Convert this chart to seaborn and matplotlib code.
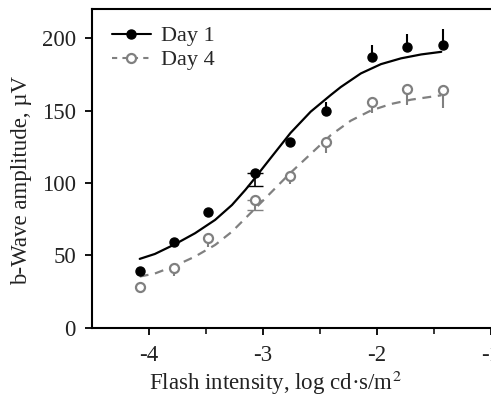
import numpy as np
import matplotlib
matplotlib.use("Agg")
import matplotlib.pyplot as plt
from matplotlib.lines import Line2D
import seaborn as sns

# datos
intensidad = [-4.08, -3.78, -3.48, -3.07, -2.76, -2.45, -2.04, -1.74, -1.42]
dia1 = [39, 59, 80, 107, 128, 150, 187, 194, 195]
dia4 = [28, 41, 62, 88, 105, 128, 156, 165, 164]
dia1_err_sup = [0, 0, 0, 0, 0, 6, 8, 9, 11]
dia1_err_inf = [0, 0, 0, 9, 0, 0, 0, 0, 0]
dia4_err_inf = [4, 5, 6, 7, 6, 7, 8, 11, 12]

# curvas de ajuste (muestras)
ajuste1_x = [-4.08, -3.947, -3.771, -3.595, -3.419, -3.271, -3.154, -3.095, -2.934,
             -2.758, -2.581, -2.405, -2.317, -2.141, -1.965, -1.789, -1.612, -1.436]
ajuste1_y = [47.6, 51, 57.7, 65.3, 74.5, 84.8, 95.2, 100.9, 117,
             134.5, 149.2, 160.7, 166.2, 175.6, 182, 186, 188.7, 190.5]
ajuste4_x = [-4.08, -3.947, -3.771, -3.595, -3.419, -3.271, -3.154, -3.022, -2.934,
             -2.758, -2.581, -2.405, -2.229, -2.053, -1.877, -1.7, -1.524, -1.436]
ajuste4_y = [35.4, 37.5, 42.8, 49.2, 57.2, 66.4, 75.6, 86, 93,
             107, 120, 133, 143, 150, 154.5, 157.5, 159.5, 160.5]

sns.set_style("ticks")
plt.rcParams['font.family'] = ['Liberation Serif', 'DejaVu Serif']
plt.rcParams['mathtext.fontset'] = 'stix'

GRIS = '#808080'
TXT = '#222222'
FS = 16.5

fig = plt.figure(figsize=(4.91, 3.95), dpi=100)
ax = fig.add_axes([0.187, 0.170, 0.813, 0.807])

sns.lineplot(x=ajuste1_x, y=ajuste1_y, ax=ax, color='black', lw=1.6, sort=False)
sns.lineplot(x=ajuste4_x, y=ajuste4_y, ax=ax, color=GRIS, lw=1.6, sort=False,
             linestyle=(0, (4, 3)))

x = np.array(intensidad)
ax.errorbar(x, dia1, yerr=[np.zeros(len(x)), dia1_err_sup], fmt='none',
            ecolor='black', elinewidth=1.5, capsize=0)
ax.errorbar(x, dia4, yerr=[dia4_err_inf, np.zeros(len(x))], fmt='none',
            ecolor=GRIS, elinewidth=1.5, capsize=0)
# barras con tapa (punto 4)
i = 3
ax.errorbar(x[i], dia1[i], yerr=[[dia1_err_inf[i]], [0]], fmt='none',
            ecolor='black', elinewidth=1.2, capsize=6)
ax.errorbar(x[i], dia4[i], yerr=[[dia4_err_inf[i]], [0]], fmt='none',
            ecolor=GRIS, elinewidth=1.2, capsize=6)

ax.plot(x, dia1, 'o', color='black', ms=6.5, zorder=5)
ax.plot(x, dia4, 'o', mfc='white', mec=GRIS, mew=1.6, ms=6.5, zorder=5)

ax.set_xlim(-4.5, -1)
ax.set_ylim(0, 220)
ax.set_xticks([-4, -3, -2, -1])
ax.set_xticklabels(['-4', '-3', '-2', '-1'])
ax.set_xticks([-3.5, -2.5, -1.5], minor=True)
ax.set_yticks([0, 50, 100, 150, 200])
ax.tick_params(axis='both', which='major', direction='out', length=5, width=1.3,
               labelsize=FS, color='black', labelcolor=TXT)
ax.tick_params(axis='x', which='major', pad=7.5)
ax.tick_params(axis='y', which='major', pad=6.5)
ax.tick_params(axis='x', which='minor', direction='out', length=4, width=1.3)

for s in ['left', 'bottom', 'top']:
    ax.spines[s].set_linewidth(1.5)
    ax.spines[s].set_color('black')
ax.spines['right'].set_visible(False)

ax.set_xlabel('Flash intensity, log cd·s/m$^2$', fontsize=FS, color=TXT)
ax.set_ylabel('b-Wave amplitude, µV', fontsize=FS, color=TXT)
ax.xaxis.set_label_coords(0.459, -0.127)
ax.yaxis.set_label_coords(-0.15, 0.462)

handles = [
    Line2D([], [], color='black', lw=1.5, marker='o', ms=6.5),
    Line2D([], [], color=GRIS, lw=1.5, linestyle=(0, (2.5, 2.5)), marker='o',
           mfc='white', mec=GRIS, mew=1.6, ms=6.5),
]
ax.legend(handles, ['Day 1', 'Day 4'], loc='upper left', frameon=False,
          fontsize=16, handlelength=1.75, handletextpad=0.45, labelspacing=0.15,
          bbox_to_anchor=(0.028, 0.975), borderaxespad=0.0)

fig.savefig('out.png', dpi=100)
